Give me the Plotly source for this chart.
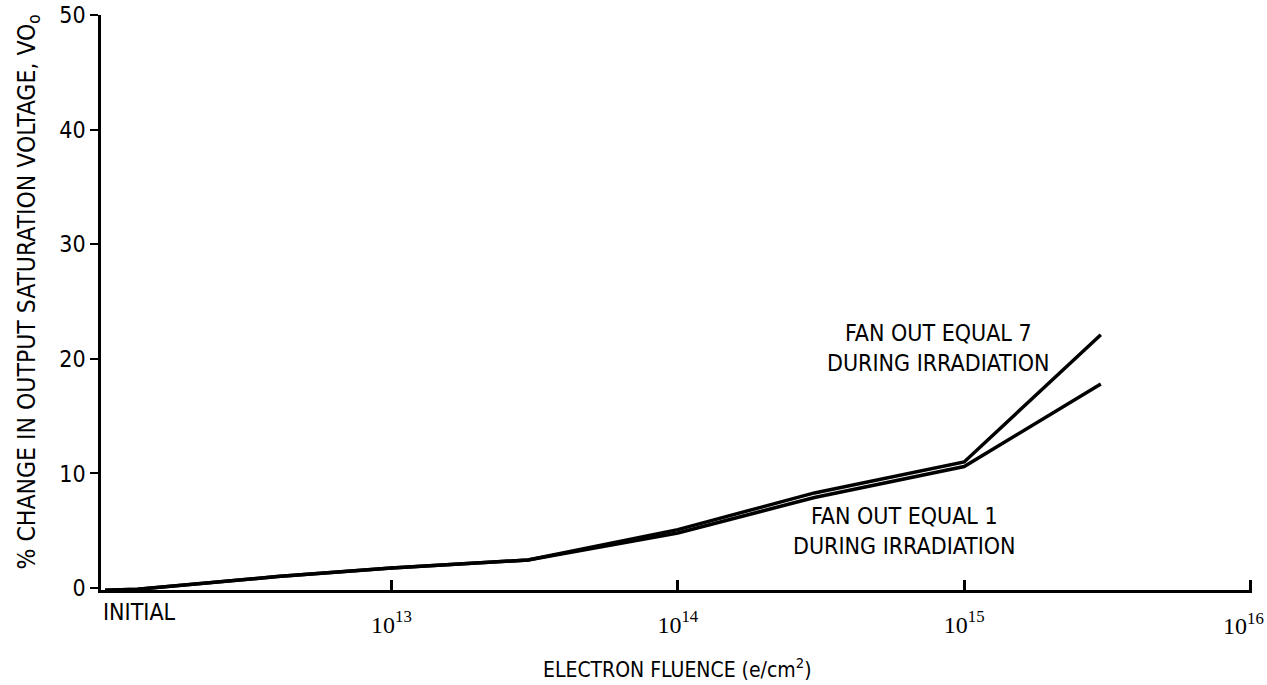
import plotly.graph_objects as go

# Data (electron fluence in e/cm^2; INITIAL placed at 1e12)
fluence = [1e12, 1.3e12, 4e12, 1e13, 3e13, 1e14, 3e14, 1e15, 3e15]
fan_out_7 = [-0.2, -0.1, 1.0, 1.75, 2.45, 5.1, 8.3, 11.0, 22.1]
fan_out_1 = [-0.2, -0.1, 1.0, 1.75, 2.45, 4.8, 7.9, 10.6, 17.8]

x_tickvals = [1e13, 1e14, 1e15, 1e16]
x_exponents = ["13", "14", "15", "16"]
y_tickvals = [0, 10, 20, 30, 40, 50]

FONT = "Liberation Sans Narrow, DejaVu Sans Condensed, Arial Narrow, sans-serif"
SERIF = "Liberation Serif, DejaVu Serif, serif"

# last label (10^16) is drawn as an annotation so it can be right-aligned at the edge
x_ticktext = ["10<sup>%s</sup>" % e for e in x_exponents[:-1]] + [""]

fig = go.Figure()
fig.add_trace(go.Scatter(x=fluence, y=fan_out_1, mode="lines",
                         line=dict(color="black", width=3.5), name="FAN OUT EQUAL 1"))
fig.add_trace(go.Scatter(x=fluence, y=fan_out_7, mode="lines",
                         line=dict(color="black", width=3.5), name="FAN OUT EQUAL 7"))

fig.update_layout(
    width=1267, height=685,
    margin=dict(l=101, r=15, t=15, b=95, autoexpand=False),
    paper_bgcolor="white", plot_bgcolor="white",
    showlegend=False,
    font=dict(family=FONT, color="black", size=22),
)
fig.update_xaxes(
    type="log", range=[11.986, 16.005],
    tickvals=x_tickvals, ticktext=x_ticktext,
    tickfont=dict(family=SERIF, size=24, color="black"),
    ticks="inside", ticklen=10, tickwidth=2.5, tickcolor="black",
    ticklabelstandoff=11, automargin=False,
    showline=True, linecolor="black", linewidth=2.5,
    showgrid=False, zeroline=False,
)
fig.update_yaxes(
    range=[-0.17, 50],
    tickvals=y_tickvals, automargin=False,
    tickfont=dict(family=FONT, size=23, color="black"),
    ticks="outside", ticklen=8, tickwidth=2, tickcolor="black",
    showline=True, linecolor="black", linewidth=2.5,
    showgrid=False, zeroline=False,
)

annotations = [
    dict(text="INITIAL", x=0, xref="paper", y=0, yref="paper", xanchor="left", yanchor="middle",
         yshift=-22, font=dict(family=FONT, size=23)),
    dict(text="10<sup>%s</sup>" % x_exponents[-1], x=16, xref="x", y=0, yref="paper",
         xanchor="right", yanchor="top", xshift=15, yshift=-17,
         font=dict(family=SERIF, size=24)),
    dict(text="ELECTRON FLUENCE (e/cm<sup>2</sup>)", x=14, xref="x", y=0, yref="paper",
         xanchor="center", yanchor="middle", yshift=-78,
         font=dict(family=FONT, size=21)),
    dict(text="% CHANGE IN OUTPUT SATURATION VOLTAGE, VO<sub>o</sub>", textangle=-90,
         x=0, xref="paper", xshift=-74, y=0.5, yref="paper", yshift=10,
         xanchor="center", yanchor="middle", font=dict(family=FONT, size=24.5)),
    dict(text="FAN OUT EQUAL 7<br>DURING IRRADIATION", x=14.91, xref="x", y=20.95, yref="y",
         xanchor="center", yanchor="middle", align="center",
         font=dict(family=FONT, size=23)),
    dict(text="FAN OUT EQUAL 1<br>DURING IRRADIATION", x=14.79, xref="x", y=5.0, yref="y",
         xanchor="center", yanchor="middle", align="center",
         font=dict(family=FONT, size=23)),
]
for a in annotations:
    a["showarrow"] = False
fig.update_layout(annotations=annotations)

fig.write_html("out.html")
